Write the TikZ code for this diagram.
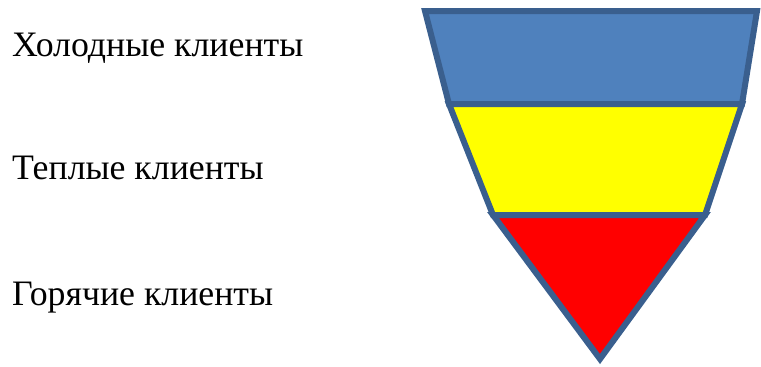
\documentclass[tikz,border=0pt]{standalone}
\usepackage{fontspec}
\setmainfont{Liberation Serif}
\definecolor{fblue}{HTML}{4F81BD}
\definecolor{fedge}{HTML}{3A5F8E}
\definecolor{fyellow}{HTML}{FFFF00}
\definecolor{fred}{HTML}{FF0000}
\tikzset{seg/.style={draw=fedge,line width=6pt,line join=miter},
lbl/.style={anchor=base west,inner sep=0pt,font=\fontsize{35.8}{40}\selectfont}}
\begin{document}
\begin{tikzpicture}[x=1pt,y=-1pt]
\useasboundingbox (0,0) rectangle (761,367);
\coordinate (a) at (425,11);
\coordinate (b) at (757,11);
\coordinate (c) at (742,104);
\coordinate (d) at (449,104);
\coordinate (e) at (705,215);
\coordinate (f) at (493,215);
\coordinate (g) at (600,359);
\filldraw[seg,fill=fblue] (a) -- (b) -- (c) -- (d) -- cycle;
\filldraw[seg,fill=fyellow] (d) -- (c) -- (e) -- (f) -- cycle;
\filldraw[seg,fill=fred] (f) -- (e) -- (g) -- cycle;
\node[lbl] (t1) at (12,56) {Холодные клиенты};
\node[lbl] (t2) at (12,179) {Теплые клиенты};
\node[lbl] (t3) at (12,305) {Горячие клиенты};
\end{tikzpicture}
\end{document}
